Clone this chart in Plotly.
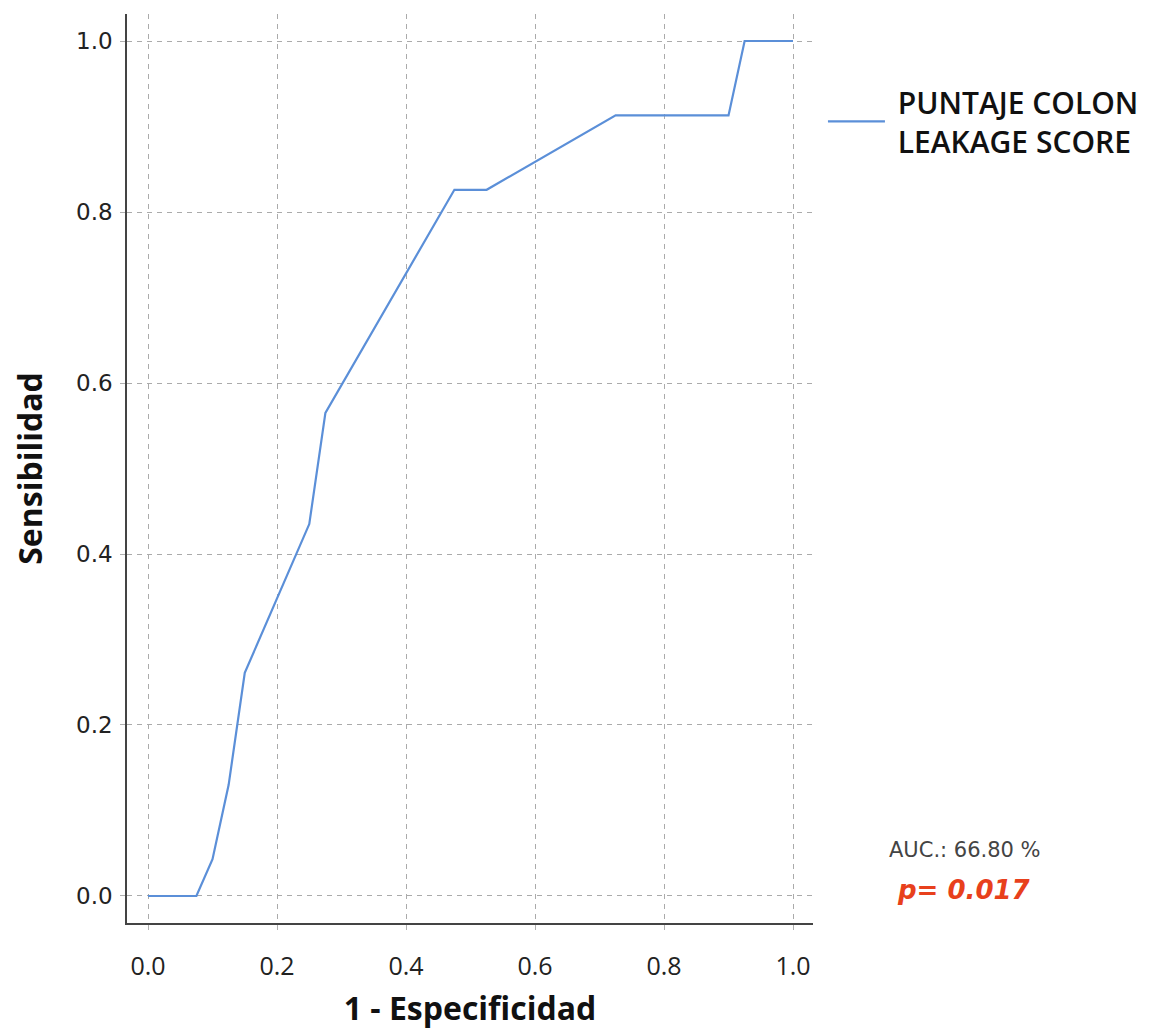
import plotly.graph_objects as go

# ROC curve data (1 - specificity, sensitivity)
fpr = [0.0, 0.075, 0.1, 0.125, 0.15, 0.25, 0.275, 0.475, 0.525, 0.725, 0.9, 0.925, 1.0]
tpr = [0.0, 0.0, 0.043, 0.13, 0.261, 0.435, 0.565, 0.826, 0.826, 0.913, 0.913, 1.0, 1.0]
series_name = "\u00a0PUNTAJE COLON<br>\u00a0LEAKAGE SCORE"
tick_vals = [0.0, 0.2, 0.4, 0.6, 0.8, 1.0]
tick_text = ["0.0", "0.2", "0.4", "0.6", "0.8", "1.0"]
auc_text = "AUC.: 66.80 %"
p_text = "p= 0.017"

fig = go.Figure()
fig.add_trace(go.Scatter(
    x=fpr, y=tpr, mode="lines", name=series_name,
    line=dict(color="#5b8fd8", width=2.2),
))

grid_common = dict(
    tickvals=tick_vals, ticktext=tick_text,
    showgrid=True, gridcolor="#ababab", griddash="5px,5px", gridwidth=1,
    zeroline=False, showline=True, linecolor="#444444", linewidth=1.5,
    ticks="outside", ticklen=5, tickcolor="#b0b0b0",
)

fig.update_xaxes(
    range=[-0.0326, 1.031], **grid_common,
    tickfont=dict(family="Open Sans", size=25, color="#222222"),
    ticklabelstandoff=15,
    title=dict(text="<b>1 - Especificidad</b>", standoff=17,
               font=dict(family="Open Sans", size=32, color="#111111")),
)
fig.update_yaxes(
    range=[-0.0316, 1.0316], **grid_common,
    tickfont=dict(family="DejaVu Sans", size=23, color="#222222"),
    ticklabelstandoff=3,
    title=dict(text="<b>Sensibilidad</b>", standoff=25,
               font=dict(family="Open Sans", size=32, color="#111111")),
)

fig.add_annotation(
    xref="paper", yref="paper", x=1.108, y=0.0803, xanchor="left", yanchor="middle",
    text=auc_text, showarrow=False,
    font=dict(family="DejaVu Sans", size=21, color="#444444"),
)
fig.add_annotation(
    xref="paper", yref="paper", x=1.1195, y=0.0363, xanchor="left", yanchor="middle",
    text="<b><i>" + p_text + "</i></b>", showarrow=False,
    font=dict(family="DejaVu Sans", size=26, color="#e8401c"),
)

fig.update_layout(
    width=1157, height=1026,
    margin=dict(l=119, r=352, t=6, b=111),
    plot_bgcolor="white", paper_bgcolor="white",
    showlegend=True,
    legend=dict(
        x=1.0145, y=0.932, xanchor="left", yanchor="top",
        font=dict(family="Open Sans", size=30, color="#111111", weight=600),
        bgcolor="rgba(0,0,0,0)", itemwidth=57,
    ),
)

fig.write_html("out.html")
